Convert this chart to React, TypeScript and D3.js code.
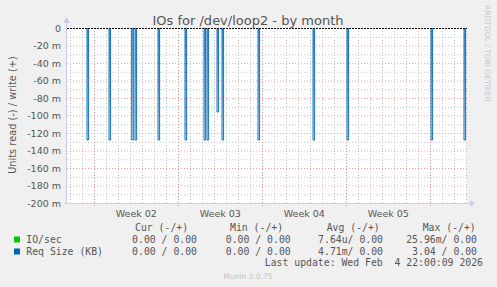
import React from "react";
import * as d3 from "d3";

// ---- data ----
const timeStart = "2026-01-02T17:24:00Z";
const timeEnd = "2026-02-05T01:24:00Z";
const yTicks = [0, -20, -40, -60, -80, -100, -120, -140, -160, -180, -200];
const yMinorTicks = [-10, -30, -50, -70, -90, -110, -130, -150, -170, -190];
const weekLabels = ["Week 02", "Week 03", "Week 04", "Week 05"];
// Req Size spikes (read, negative, in milli units)
const spikeTimes = [
  "2026-01-04T09:24:00Z",
  "2026-01-06T05:24:00Z",
  "2026-01-08T02:48:00Z",
  "2026-01-08T09:24:00Z",
  "2026-01-10T07:24:00Z",
  "2026-01-12T13:24:00Z",
  "2026-01-14T03:24:00Z",
  "2026-01-14T09:24:00Z",
  "2026-01-15T05:24:00Z",
  "2026-01-15T15:24:00Z",
  "2026-01-18T15:24:00Z",
  "2026-01-23T05:24:00Z",
  "2026-01-26T01:24:00Z",
  "2026-02-02T01:24:00Z",
  "2026-02-04T19:24:00Z",
];
const spikeValues = [-128, -128, -128, -128, -128, -128, -128, -128, -96, -128, -128, -128, -128, -128, -128];
const legendNames = ["IO/sec", "Req Size (KB)"];
const legendColors = ["#00cc00", "#0066b3"];
const legendHeaders = ["Cur (-/+)", "Min (-/+)", "Avg (-/+)", "Max (-/+)"];
const legendCur = ["0.00 / 0.00", "0.00 / 0.00"];
const legendMin = ["0.00 / 0.00", "0.00 / 0.00"];
const legendAvg = ["7.64u/ 0.00", "4.71m/ 0.00"];
const legendMax = ["25.96m/ 0.00", "3.04 / 0.00"];
const lastUpdate = "Last update: Wed Feb  4 22:00:09 2026";
const title = "IOs for /dev/loop2 - by month";
const yAxisLabel = "Units read (-) / write (+)";
const sideText = "RRDTOOL / TOBI OETIKER";
const footer = "Munin 2.0.75";

const W = 497, H = 287;
const L = 67, R = 467, T = 28, B = 203;
const SANS = "'DejaVu Sans', sans-serif";
const MONO = "'DejaVu Sans Mono', monospace";
const TXT = "#555";

export default function App() {
  const start = new Date(timeStart);
  const end = new Date(timeEnd);
  const x = d3.scaleUtc().domain([start, end]).range([L, R]);
  const y = d3.scaleLinear().domain([-200, 0]).range([B, T]);
  const days = d3.utcDay.range(start, end);
  const weeks = d3.utcMonday.range(start, end);
  const spikeDur = 3.2 * 3600 * 1000;

  const line = d3
    .line<[Date, number]>()
    .x((d) => x(d[0]))
    .y((d) => y(d[1]));
  const area = d3
    .area<[Date, number]>()
    .x((d) => x(d[0]))
    .y0(y(0))
    .y1((d) => y(d[1]));

  const spikes = spikeTimes.map((s, i) => {
    const t = new Date(s);
    const t2 = new Date(t.getTime() + spikeDur);
    const v = spikeValues[i];
    const pts: [Date, number][] = [
      [t, 0],
      [t, v],
      [t2, v],
      [t2, 0],
    ];
    return { pts, area: [[t, v], [t2, v]] as [Date, number][] };
  });

  const mgrid = "rgba(240,120,120,0.7)";
  const grid = "rgba(170,170,170,0.7)";

  return (
    <svg width={W} height={H} style={{ position: "absolute", left: 0, top: 0, background: "#f0f0f0" }}>
      <defs>
        <linearGradient id="sg" x1="0" y1="0" x2="0" y2="1">
          <stop offset="0%" stopColor="#5a9dd2" />
          <stop offset="100%" stopColor="#e2eef8" />
        </linearGradient>
      </defs>
      <rect x={0} y={0} width={W} height={H} fill="#f0f0f0" />
      <rect x={L} y={T} width={R - L} height={B - T} fill="#ffffff" />
      {/* minor grid */}
      {yMinorTicks.map((v) => (
        <line key={"ym" + v} x1={L} x2={R} y1={y(v) + 0.5} y2={y(v) + 0.5} stroke={grid} strokeDasharray="1,2" />
      ))}
      {days.map((d) => (
        <line key={"xd" + d.getTime()} x1={Math.round(x(d)) + 0.5} x2={Math.round(x(d)) + 0.5} y1={T} y2={B + 2} stroke={grid} strokeDasharray="1,2" />
      ))}
      {/* major grid */}
      {yTicks.map((v) => (
        <line key={"yM" + v} x1={L} x2={R + 2} y1={y(v) + 0.5} y2={y(v) + 0.5} stroke={mgrid} strokeDasharray="1,2" />
      ))}
      {weeks.map((d) => (
        <line key={"xw" + d.getTime()} x1={Math.round(x(d)) + 0.5} x2={Math.round(x(d)) + 0.5} y1={T} y2={B + 3} stroke={mgrid} strokeDasharray="1,2" />
      ))}
      {/* spikes */}
      {spikes.map((s, i) => (
        <g key={"s" + i}>
          <path d={area(s.area) || ""} fill="url(#sg)" />
          <path d={line(s.pts) || ""} fill="none" stroke="#0066b3" strokeWidth={0.9} />
        </g>
      ))}
      {/* zero line */}
      <line x1={L} x2={R} y1={y(0) + 0.5} y2={y(0) + 0.5} stroke="#000" strokeDasharray="2,1" />
      {/* axes */}
      <line x1={L - 0.5} x2={L - 0.5} y1={B + 1} y2={T - 6} stroke="#ccccf0" />
      <path d={`M${L - 4},${T - 5} L${L - 0.5},${T - 11} L${L + 3},${T - 5} Z`} fill="#ccccf0" />
      <line x1={L - 3} x2={R + 3} y1={B + 0.5} y2={B + 0.5} stroke="#ccccf0" />
      <path d={`M${R + 3},${B - 3} L${R + 8},${B + 0.5} L${R + 3},${B + 4} Z`} fill="#ccccf0" />
      {/* y tick labels */}
      {yTicks.map((v) => (
        <text key={"yt" + v} x={61} y={y(v) + 3.8} textAnchor="end" fontFamily={SANS} fontSize={9.5} fill={TXT} style={{ whiteSpace: "pre" }}>
          {v === 0 ? "0" : `${v} m`}
        </text>
      ))}
      {/* week labels */}
      {weekLabels.map((w, i) => {
        const a = weeks[i];
        const b = weeks[i + 1] ?? end;
        return (
          <text key={w} x={(x(a) + x(b)) / 2} y={217} textAnchor="middle" fontFamily={SANS} fontSize={9.5} fill={TXT}>
            {w}
          </text>
        );
      })}
      {/* title */}
      <text x={248} y={24.5} textAnchor="middle" fontFamily={SANS} fontSize={13} fill={TXT}>
        {title}
      </text>
      <text transform="translate(15.5,115) rotate(-90)" textAnchor="middle" fontFamily={SANS} fontSize={9.8} fill={TXT}>
        {yAxisLabel}
      </text>
      <text transform="translate(485,5) rotate(90)" textAnchor="start" fontFamily={SANS} fontSize={7.5} fill="#c8c8c8">
        {sideText}
      </text>
      {/* legend */}
      {[135, 230, 326.7, 422.7].map((px, i) => (
        <text key={"h" + i} x={px} y={231} fontFamily={MONO} fontSize={9.8} fill={TXT} style={{ whiteSpace: "pre" }}>
          {legendHeaders[i]}
        </text>
      ))}
      {legendNames.map((n, i) => {
        const by = 243 + i * 12;
        return (
          <g key={n}>
            <rect x={14} y={by - 6.5} width={6} height={6} fill={legendColors[i]} />
            <text x={26.3} y={by} fontFamily={MONO} fontSize={9.8} fill={TXT} style={{ whiteSpace: "pre" }}>{n}</text>
            <text x={197} y={by} textAnchor="end" fontFamily={MONO} fontSize={9.8} fill={TXT} style={{ whiteSpace: "pre" }}>{legendCur[i]}</text>
            <text x={290.7} y={by} textAnchor="end" fontFamily={MONO} fontSize={9.8} fill={TXT} style={{ whiteSpace: "pre" }}>{legendMin[i]}</text>
            <text x={383} y={by} textAnchor="end" fontFamily={MONO} fontSize={9.8} fill={TXT} style={{ whiteSpace: "pre" }}>{legendAvg[i]}</text>
            <text x={477} y={by} textAnchor="end" fontFamily={MONO} fontSize={9.8} fill={TXT} style={{ whiteSpace: "pre" }}>{legendMax[i]}</text>
          </g>
        );
      })}
      <text x={483} y={266} textAnchor="end" fontFamily={MONO} fontSize={9.8} fill={TXT} style={{ whiteSpace: "pre" }}>
        {lastUpdate}
      </text>
      <text x={248} y={279} textAnchor="middle" fontFamily={SANS} fontSize={7.5} fill="#c0c0c0">
        {footer}
      </text>
    </svg>
  );
}
